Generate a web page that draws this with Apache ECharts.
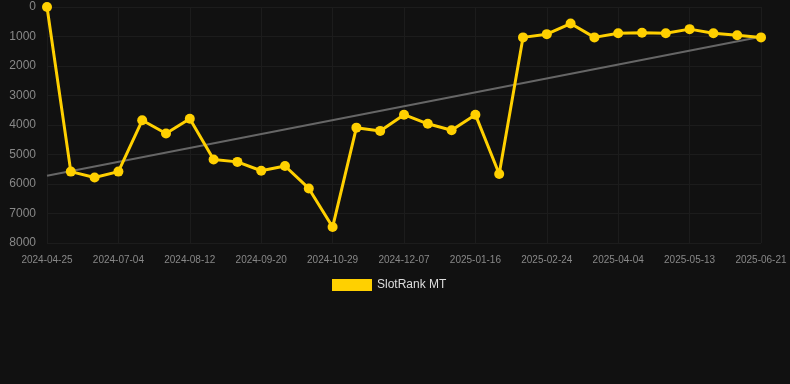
<!DOCTYPE html>
<html>
<head>
<meta charset="utf-8">
<script src="https://cdn.jsdelivr.net/npm/echarts@6/dist/echarts.min.js"></script>
<style>
  html, body { margin: 0; padding: 0; background: #111111; }
  #chart { width: 790px; height: 384px; }
</style>
</head>
<body>
<div id="chart"></div>
<script>
var dates = [
    '2024-04-25', '2024-06-08', '2024-06-21', '2024-07-04', '2024-07-17', '2024-07-30',
    '2024-08-12', '2024-08-25', '2024-09-07', '2024-09-20', '2024-10-03', '2024-10-16',
    '2024-10-29', '2024-11-11', '2024-11-24', '2024-12-07', '2024-12-20', '2025-01-03',
    '2025-01-16', '2025-01-29', '2025-02-11', '2025-02-24', '2025-03-09', '2025-03-22',
    '2025-04-04', '2025-04-17', '2025-04-30', '2025-05-13', '2025-05-26', '2025-06-08',
    '2025-06-21'
];
var rankValues = [
    1, 5580, 5780, 5580, 3840, 4290, 3790, 5170, 5250, 5550, 5390, 6150,
    7460, 4090, 4200, 3650, 3960, 4180, 3650, 5660, 1030, 920, 560, 1030,
    890, 870, 890, 750, 890, 960, 1030
];
// trend line end points (first and last category)
var trendEnds = [5720, 1010];

var trendData = dates.map(function (d, i) {
    if (i == 0) return trendEnds[0];
    if (i == dates.length - 1) return trendEnds[1];
    return null;
});

var chart = echarts.init(document.getElementById('chart'));
var option = {
    backgroundColor: '#111111',
    animation: false,
    grid: {
        left: 47,
        right: 29,
        top: 7,
        bottom: 141
    },
    legend: {
        data: ['SlotRank MT'],
        bottom: 88,
        left: 327,
        itemWidth: 40,
        itemHeight: 12,
        itemGap: 10,
        icon: 'rect',
        textStyle: { color: '#dddddd', fontSize: 12, fontFamily: 'Arial' }
    },
    xAxis: {
        type: 'category',
        data: dates,
        boundaryGap: false,
        axisLine: { show: false },
        axisTick: { show: false },
        axisLabel: {
            interval: 2,
            color: '#888888',
            fontSize: 10,
            fontFamily: 'Arial',
            margin: 12
        },
        splitLine: {
            show: true,
            interval: 2,
            lineStyle: { color: '#1c1c1c' }
        }
    },
    yAxis: {
        type: 'value',
        inverse: true,
        min: 0,
        max: 8000,
        interval: 1000,
        axisLine: { show: false },
        axisTick: { show: false },
        axisLabel: {
            color: '#888888',
            fontSize: 12,
            fontFamily: 'Arial',
            margin: 11,
            formatter: function (v) { return String(v); }
        },
        splitLine: { lineStyle: { color: '#1c1c1c' } }
    },
    series: [
        {
            name: 'trend',
            type: 'line',
            data: trendData,
            connectNulls: true,
            symbol: 'none',
            lineStyle: { color: '#666666', width: 2 },
            z: 1
        },
        {
            name: 'SlotRank MT',
            type: 'line',
            data: rankValues,
            symbol: 'circle',
            symbolSize: 10,
            itemStyle: { color: '#ffd000' },
            lineStyle: { color: '#ffd000', width: 3 },
            z: 2
        }
    ]
};
chart.setOption(option);
</script>
</body>
</html>
